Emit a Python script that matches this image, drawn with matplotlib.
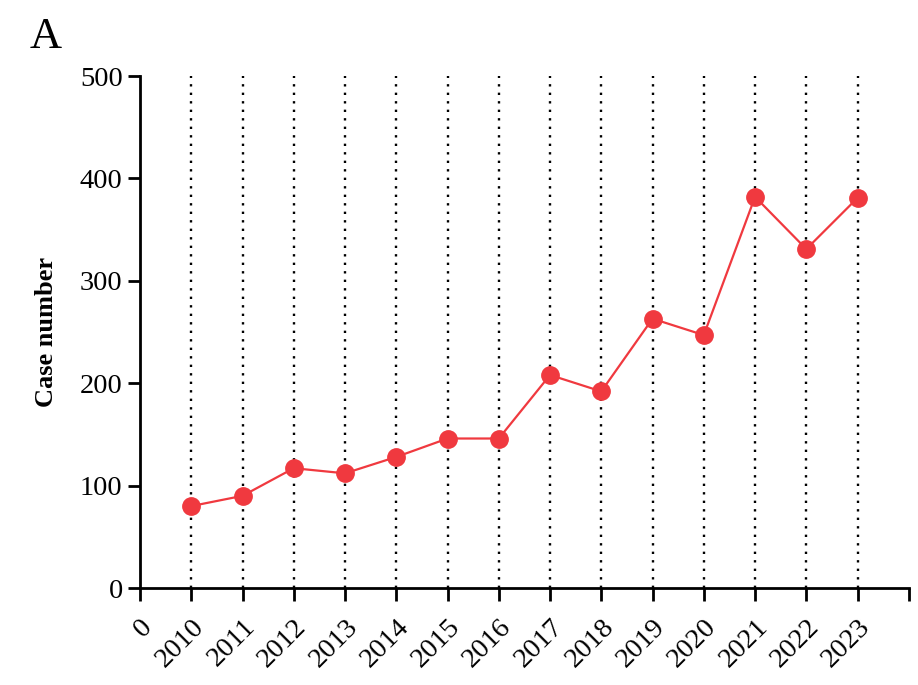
import matplotlib.pyplot as plt

plt.rcParams['font.family'] = ['Liberation Serif', 'DejaVu Serif']

years = ['2010', '2011', '2012', '2013', '2014', '2015', '2016',
         '2017', '2018', '2019', '2020', '2021', '2022', '2023']
cases = [80, 90, 117, 112, 128, 146, 146, 208, 192, 263, 247, 382, 331, 381]
xpos = list(range(1, len(years) + 1))

fig = plt.figure(figsize=(9.18, 6.85), dpi=100)
ax = fig.add_axes([0.1525, 0.1416, 0.8375, 0.7474])

# linhas verticais pontilhadas em cada ano
for x in xpos:
    ax.plot([x, x], [0, 500], linestyle=(0, (1, 2.6)), color='black', linewidth=1.7, zorder=1)

ax.plot(xpos, cases, color='#f0393f', linewidth=1.6, marker='o', markersize=12.5,
        zorder=3, clip_on=False)

ax.set_xlim(0, 15)
ax.set_ylim(0, 500)
ax.set_xticks(range(0, 16))
ax.set_xticklabels(['0'] + years + [''], rotation=45, ha='right', rotation_mode='anchor')
ax.set_yticks([0, 100, 200, 300, 400, 500])

for s in ['top', 'right']:
    ax.spines[s].set_visible(False)
for s in ['left', 'bottom']:
    ax.spines[s].set_linewidth(2)

ax.tick_params(axis='both', width=2, length=9, labelsize=20.5, direction='out')
ax.tick_params(axis='x', pad=10)
ax.set_ylabel('Case number', fontsize=19, fontweight='bold', labelpad=16)

fig.text(0.032, 0.93, 'A', fontsize=32)

plt.savefig('out.png')
